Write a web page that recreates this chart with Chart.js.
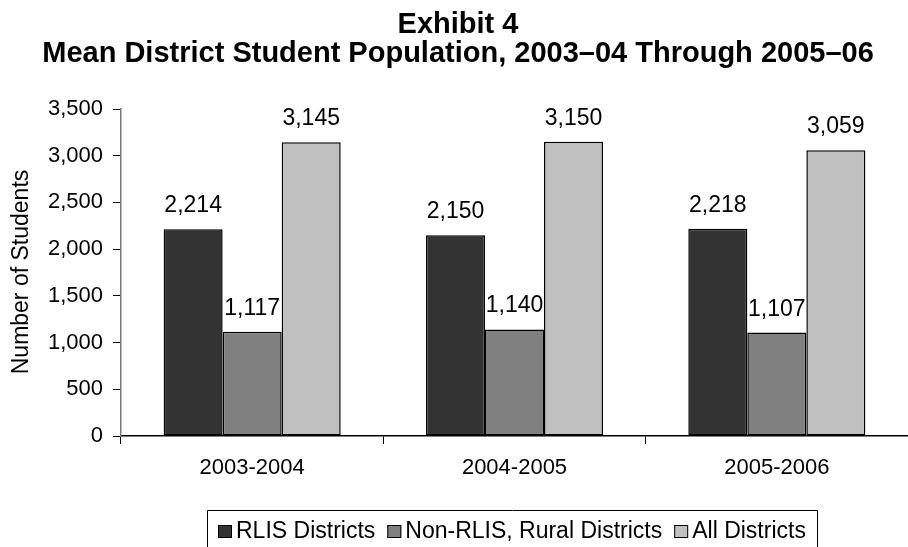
<!DOCTYPE html>
<html>
<head>
<meta charset="utf-8">
<script src="https://cdn.jsdelivr.net/npm/chart.js@4"></script>
<style>
  html, body { margin: 0; padding: 0; background: #ffffff; }
  #wrap { width: 908px; height: 547px; }
</style>
</head>
<body>
<div id="wrap"><canvas id="chart" width="908" height="547"></canvas></div>
<script>
// School years on the category axis
const categories = ['2003-2004', '2004-2005', '2005-2006'];

// Mean number of students per district, by district type
const rlisDistricts = [2214, 2150, 2218];
const nonRlisRuralDistricts = [1117, 1140, 1107];
const allDistricts = [3145, 3150, 3059];

const seriesNames = ['RLIS Districts', 'Non-RLIS, Rural Districts', 'All Districts'];
const seriesColors = ['#333333', '#808080', '#c0c0c0'];

// Value axis ticks
const yTickValues = [0, 500, 1000, 1500, 2000, 2500, 3000, 3500];

const titleLines = ['Exhibit 4', 'Mean District Student Population, 2003\u201304 Through 2005\u201306'];
const yAxisTitle = 'Number of Students';

const FONT = '"Liberation Sans", Arial, Helvetica, sans-serif';
const fmt = v => v.toLocaleString('en-US');

// Two-line bold heading above the plot
const headingPlugin = {
  id: 'heading',
  afterDraw(chart) {
    const ctx = chart.ctx;
    ctx.save();
    ctx.fillStyle = '#000';
    ctx.font = 'bold 29px ' + FONT;
    ctx.textAlign = 'center';
    ctx.textBaseline = 'alphabetic';
    const cx = 458;
    ctx.fillText(titleLines[0], cx, 33);
    ctx.fillText(titleLines[1], cx, 62);
    ctx.restore();
  }
};

// Rotated title for the value axis
const yTitlePlugin = {
  id: 'yTitle',
  afterDraw(chart) {
    const ctx = chart.ctx;
    ctx.save();
    ctx.translate(22, 272);
    ctx.rotate(-Math.PI / 2);
    ctx.fillStyle = '#000';
    ctx.font = '23px ' + FONT;
    ctx.textAlign = 'center';
    ctx.textBaseline = 'middle';
    ctx.fillText(yAxisTitle, 0, 0);
    ctx.restore();
  }
};

// Value labels above each bar
const valueLabelPlugin = {
  id: 'valueLabels',
  afterDatasetsDraw(chart) {
    const ctx = chart.ctx;
    ctx.save();
    ctx.fillStyle = '#000';
    ctx.font = '23px ' + FONT;
    ctx.textAlign = 'center';
    ctx.textBaseline = 'alphabetic';
    chart.data.datasets.forEach((ds, i) => {
      const meta = chart.getDatasetMeta(i);
      meta.data.forEach((bar, j) => {
        ctx.fillText(fmt(ds.data[j]), bar.x, bar.y - 17);
      });
    });
    ctx.restore();
  }
};

// Boxed legend below the category labels
const boxedLegendPlugin = {
  id: 'boxedLegend',
  afterDraw(chart) {
    const ctx = chart.ctx;
    ctx.save();
    ctx.font = '23px ' + FONT;
    const box = 14, gapText = 4, gapItem = 12, inner = 11;
    const left = 207, top = 510, baseline = 538;
    let x = left + inner;
    chart.data.datasets.forEach((ds) => {
      ctx.fillStyle = ds.backgroundColor;
      ctx.fillRect(x, 525, box, 13);
      ctx.strokeStyle = '#000';
      ctx.lineWidth = 1;
      ctx.strokeRect(x + 0.5, 525.5, box - 1, 12);
      x += box + gapText;
      ctx.fillStyle = '#000';
      ctx.textAlign = 'left';
      ctx.textBaseline = 'alphabetic';
      ctx.fillText(ds.label, x, baseline);
      x += ctx.measureText(ds.label).width + gapItem;
    });
    const right = Math.round(x - gapItem + inner);
    ctx.strokeStyle = '#000';
    ctx.lineWidth = 1;
    ctx.beginPath();
    ctx.moveTo(left + 0.5, chart.height);
    ctx.lineTo(left + 0.5, top + 0.5);
    ctx.lineTo(right + 0.5, top + 0.5);
    ctx.lineTo(right + 0.5, chart.height);
    ctx.stroke();
    ctx.restore();
  }
};

const values = [rlisDistricts, nonRlisRuralDistricts, allDistricts];

new Chart(document.getElementById('chart'), {
  type: 'bar',
  data: {
    labels: categories,
    datasets: values.map((arr, i) => ({
      label: seriesNames[i],
      data: arr,
      backgroundColor: seriesColors[i],
      borderColor: '#000000',
      borderWidth: 1.5,
      borderSkipped: false,
      categoryPercentage: 0.675,
      barPercentage: 1.0
    }))
  },
  options: {
    responsive: false,
    devicePixelRatio: 1,
    animation: false,
    layout: { padding: { top: 109, left: 0, right: 0, bottom: 66 } },
    plugins: {
      legend: { display: false },
      title: { display: false },
      tooltip: { enabled: false }
    },
    scales: {
      x: {
        offset: true,
        grid: {
          display: true,
          drawOnChartArea: false,
          drawTicks: true,
          tickLength: 8,
          color: '#000',
          offset: true
        },
        border: { display: true, color: '#000', width: 1.5 },
        ticks: { color: '#000', font: { family: FONT, size: 22 }, padding: 11 },
        afterFit(scale) { scale.height = 45; }
      },
      y: {
        min: 0,
        max: 3500,
        afterBuildTicks(scale) { scale.ticks = yTickValues.map(v => ({ value: v })); },
        grid: {
          display: true,
          drawOnChartArea: false,
          drawTicks: true,
          tickLength: 8,
          color: '#000'
        },
        border: { display: true, color: '#777', width: 1.5 },
        ticks: {
          color: '#000',
          font: { family: FONT, size: 22 },
          padding: 10,
          callback: v => fmt(v)
        },
        afterFit(scale) { scale.width = 121; }
      }
    }
  },
  plugins: [headingPlugin, yTitlePlugin, valueLabelPlugin, boxedLegendPlugin]
});
</script>
</body>
</html>
